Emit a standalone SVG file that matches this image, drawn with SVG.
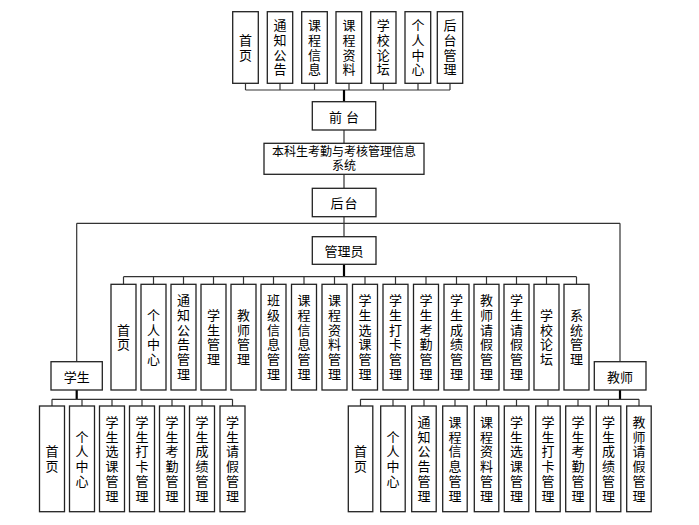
<svg xmlns="http://www.w3.org/2000/svg" width="699" height="525" viewBox="0 0 699 525">
<style>
.b{fill:#fff;stroke:#222;stroke-width:1.3}
.t{font-family:"Noto Sans CJK SC","Noto Sans CJK JP",sans-serif;font-size:13px;fill:#000;text-anchor:middle;dominant-baseline:central}
.v{font-family:"Noto Sans CJK SC","Noto Sans CJK JP",sans-serif;font-size:13px;fill:#000;text-anchor:middle;writing-mode:vertical-rl;text-orientation:upright;letter-spacing:1.7px}
.s{font-family:"Liberation Sans","Noto Sans CJK SC",sans-serif;font-size:12px}
.l{stroke:#333;stroke-width:1.2;fill:none}
.k{stroke:#000;stroke-width:2.2;fill:none}
</style>
<rect width="699" height="525" fill="#fff"/>
<g id="connectors">
<path class="l" d="M245.5 90H450M245.5 83.3V90M280 83.3V90M314.5 83.3V90M349 83.3V90M383.3 83.3V90M418 83.3V90M450 83.3V90"/>
<path class="k" d="M344 90V101.7"/>
<path class="l" d="M344 130V143.3M344 174.3V188.3M344 216.7V236.7M76.7 223.3H620M76.7 223.3V361.7M620 223.3V361.7"/>
<path class="k" d="M344 264.3V276.7"/>
<path class="l" stroke-width="1.5" d="M123.5 276.7H576.5"/>
<path class="l" d="M123.5 276.7V284.3M153.5 276.7V284.3M183.5 276.7V284.3M213.5 276.7V284.3M243.5 276.7V284.3M273.5 276.7V284.3M304 276.7V284.3M334.5 276.7V284.3M365 276.7V284.3M395.5 276.7V284.3M426 276.7V284.3M456.5 276.7V284.3M486.5 276.7V284.3M516.5 276.7V284.3M546.5 276.7V284.3M576.5 276.7V284.3"/>
<path class="k" d="M76.7 390V399.3M620 390V399.3"/>
<path class="l" d="M52 399.3H232.5M52 399.3V406M82 399.3V406M112 399.3V406M142 399.3V406M172 399.3V406M202 399.3V406M232.5 399.3V406"/>
<path class="l" d="M360.5 399.3H639M360.5 399.3V406M393 399.3V406M424 399.3V406M455 399.3V406M486.5 399.3V406M516.5 399.3V406M548 399.3V406M578 399.3V406M608.5 399.3V406M639 399.3V406"/>
</g>
<g id="top-nodes">
<g id="n-shouye"><rect class="b" x="232.7" y="11.7" width="25.6" height="71.6"/><text class="v" x="245.5" y="48.3">首页</text></g>
<g id="n-tongzhi"><rect class="b" x="267.3" y="11.7" width="25.4" height="71.6"/><text class="v" x="280" y="48.3">通知公告</text></g>
<g id="n-kcxx"><rect class="b" x="301.7" y="11.7" width="25.6" height="71.6"/><text class="v" x="314.5" y="48.3">课程信息</text></g>
<g id="n-kczl"><rect class="b" x="336" y="11.7" width="25.7" height="71.6"/><text class="v" x="349" y="48.3">课程资料</text></g>
<g id="n-xxlt"><rect class="b" x="370.7" y="11.7" width="25.3" height="71.6"/><text class="v" x="383.3" y="48.3">学校论坛</text></g>
<g id="n-grzx"><rect class="b" x="405" y="11.7" width="25.7" height="71.6"/><text class="v" x="418" y="48.3">个人中心</text></g>
<g id="n-htgl"><rect class="b" x="437.3" y="11.7" width="25.4" height="71.6"/><text class="v" x="450" y="48.3">后台管理</text></g>
</g>
<g id="n-qiantai"><rect class="b" x="312.3" y="101.7" width="63.4" height="28.3"/><text class="t" x="346" y="116" letter-spacing="4">前台</text></g>
<g id="n-system"><rect class="b" x="264" y="143.3" width="160" height="31"/><text class="t s"><tspan x="344" y="151.5">本科生考勤与考核管理信息</tspan><tspan x="344" y="166">系统</tspan></text></g>
<g id="n-houtai"><rect class="b" x="312.3" y="188.3" width="63.7" height="28.4"/><text class="t" x="344.5" y="202.5" letter-spacing="1">后台</text></g>
<g id="n-admin"><rect class="b" x="312.3" y="236.7" width="63.7" height="27.6"/><text class="t" x="344" y="250.5">管理员</text></g>
<g id="n-student"><rect class="b" x="51" y="361.7" width="51.3" height="28.3"/><text class="t" x="76.7" y="376">学生</text></g>
<g id="n-teacher"><rect class="b" x="594.3" y="361.7" width="51.7" height="28.3"/><text class="t" x="620" y="376">教师</text></g>
<g id="admin-nodes">
<g id="a1"><rect class="b" x="111" y="284.3" width="25" height="105.7"/><text class="v" x="123.5" y="338">首页</text></g>
<g id="a2"><rect class="b" x="141" y="284.3" width="25" height="105.7"/><text class="v" x="153.5" y="338">个人中心</text></g>
<g id="a3"><rect class="b" x="171" y="284.3" width="25" height="105.7"/><text class="v" x="183.5" y="338">通知公告管理</text></g>
<g id="a4"><rect class="b" x="201" y="284.3" width="25" height="105.7"/><text class="v" x="213.5" y="338">学生管理</text></g>
<g id="a5"><rect class="b" x="231" y="284.3" width="25" height="105.7"/><text class="v" x="243.5" y="338">教师管理</text></g>
<g id="a6"><rect class="b" x="261" y="284.3" width="25" height="105.7"/><text class="v" x="273.5" y="338">班级信息管理</text></g>
<g id="a7"><rect class="b" x="291.5" y="284.3" width="25" height="105.7"/><text class="v" x="304" y="338">课程信息管理</text></g>
<g id="a8"><rect class="b" x="322" y="284.3" width="25" height="105.7"/><text class="v" x="334.5" y="338">课程资料管理</text></g>
<g id="a9"><rect class="b" x="352.5" y="284.3" width="25" height="105.7"/><text class="v" x="365" y="338">学生选课管理</text></g>
<g id="a10"><rect class="b" x="383" y="284.3" width="25" height="105.7"/><text class="v" x="395.5" y="338">学生打卡管理</text></g>
<g id="a11"><rect class="b" x="413.5" y="284.3" width="25" height="105.7"/><text class="v" x="426" y="338">学生考勤管理</text></g>
<g id="a12"><rect class="b" x="444" y="284.3" width="25" height="105.7"/><text class="v" x="456.5" y="338">学生成绩管理</text></g>
<g id="a13"><rect class="b" x="474" y="284.3" width="25" height="105.7"/><text class="v" x="486.5" y="338">教师请假管理</text></g>
<g id="a14"><rect class="b" x="504" y="284.3" width="25" height="105.7"/><text class="v" x="516.5" y="338">学生请假管理</text></g>
<g id="a15"><rect class="b" x="534" y="284.3" width="25" height="105.7"/><text class="v" x="546.5" y="338">学校论坛</text></g>
<g id="a16"><rect class="b" x="564" y="284.3" width="25" height="105.7"/><text class="v" x="576.5" y="338">系统管理</text></g>
</g>
<g id="student-nodes">
<g id="s1"><rect class="b" x="39.5" y="406" width="25" height="105.7"/><text class="v" x="52" y="459.7">首页</text></g>
<g id="s2"><rect class="b" x="69.5" y="406" width="25" height="105.7"/><text class="v" x="82" y="459.7">个人中心</text></g>
<g id="s3"><rect class="b" x="99.5" y="406" width="25" height="105.7"/><text class="v" x="112" y="459.7">学生选课管理</text></g>
<g id="s4"><rect class="b" x="129.5" y="406" width="25" height="105.7"/><text class="v" x="142" y="459.7">学生打卡管理</text></g>
<g id="s5"><rect class="b" x="159.5" y="406" width="25" height="105.7"/><text class="v" x="172" y="459.7">学生考勤管理</text></g>
<g id="s6"><rect class="b" x="189.5" y="406" width="25" height="105.7"/><text class="v" x="202" y="459.7">学生成绩管理</text></g>
<g id="s7"><rect class="b" x="220" y="406" width="25" height="105.7"/><text class="v" x="232.5" y="459.7">学生请假管理</text></g>
</g>
<g id="teacher-nodes">
<g id="t1"><rect class="b" x="348.3" y="406" width="24.5" height="105.7"/><text class="v" x="360.5" y="459.7">首页</text></g>
<g id="t2"><rect class="b" x="380.7" y="406" width="24.5" height="105.7"/><text class="v" x="393" y="459.7">个人中心</text></g>
<g id="t3"><rect class="b" x="411.7" y="406" width="24.5" height="105.7"/><text class="v" x="424" y="459.7">通知公告管理</text></g>
<g id="t4"><rect class="b" x="442.7" y="406" width="24.5" height="105.7"/><text class="v" x="455" y="459.7">课程信息管理</text></g>
<g id="t5"><rect class="b" x="474.3" y="406" width="24.5" height="105.7"/><text class="v" x="486.5" y="459.7">课程资料管理</text></g>
<g id="t6"><rect class="b" x="504.3" y="406" width="24.5" height="105.7"/><text class="v" x="516.5" y="459.7">学生选课管理</text></g>
<g id="t7"><rect class="b" x="535.7" y="406" width="24.5" height="105.7"/><text class="v" x="548" y="459.7">学生打卡管理</text></g>
<g id="t8"><rect class="b" x="565.7" y="406" width="24.5" height="105.7"/><text class="v" x="578" y="459.7">学生考勤管理</text></g>
<g id="t9"><rect class="b" x="596.3" y="406" width="24.5" height="105.7"/><text class="v" x="608.5" y="459.7">学生成绩管理</text></g>
<g id="t10"><rect class="b" x="626.7" y="406" width="24.5" height="105.7"/><text class="v" x="639" y="459.7">教师请假管理</text></g>
</g>
</svg>
